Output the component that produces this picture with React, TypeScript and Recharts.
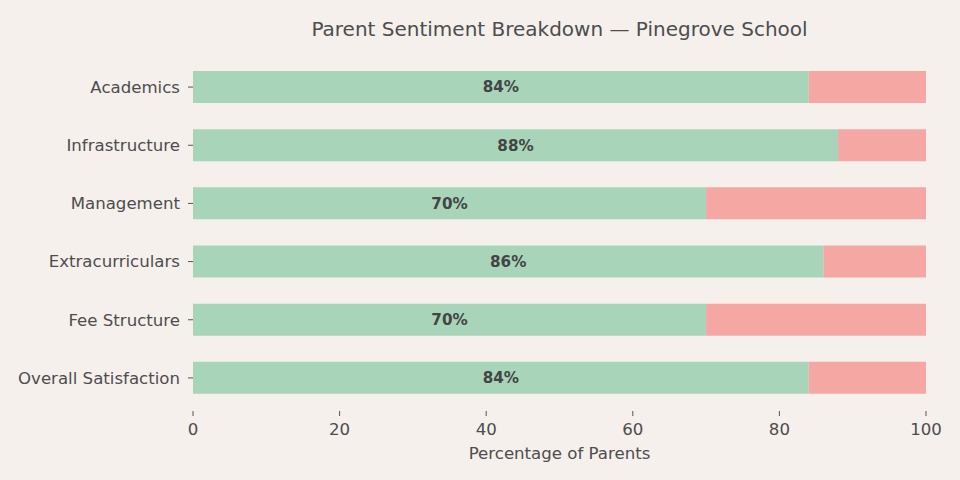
import React from 'react';
import { BarChart, Bar, XAxis, YAxis, LabelList, Label } from 'recharts';

const categories = [
    'Academics',
    'Infrastructure',
    'Management',
    'Extracurriculars',
    'Fee Structure',
    'Overall Satisfaction',
];
const positive = [84, 88, 70, 86, 70, 84];
const negative = [16, 12, 30, 14, 30, 16];
const xTicks = [0, 20, 40, 60, 80, 100];

const BG = '#f5f0ec';
const TEXT = '#4d4d4d';
const FONT = '"DejaVu Sans", sans-serif';

const data = categories.map((name, i) => ({
    name,
    positive: positive[i],
    negative: negative[i],
}));

export default function App() {
    return (
        <div style={{ position: 'absolute', left: 0, top: 0, width: 960, height: 480, background: BG, fontFamily: FONT }}>
            <BarChart
                width={960}
                height={480}
                layout="vertical"
                data={data}
                margin={{ top: 58, right: 34, bottom: 0, left: 0 }}
            >
                <XAxis
                    type="number"
                    domain={[0, 100]}
                    ticks={xTicks}
                    axisLine={false}
                    tickSize={5}
                    tickMargin={7}
                    tickLine={{ stroke: '#555' }}
                    tick={{ fill: TEXT, fontSize: 16.6, fontFamily: FONT }}
                    height={69}
                >
                    <Label
                        value="Percentage of Parents"
                        position="insideBottom"
                        offset={21}
                        style={{ fill: TEXT, fontSize: 16.6, fontFamily: FONT }}
                    />
                </XAxis>
                <YAxis
                    type="category"
                    dataKey="name"
                    width={193}
                    axisLine={false}
                    tickSize={5}
                    tickMargin={8}
                    tickLine={{ stroke: '#555' }}
                    tick={{ fill: TEXT, fontSize: 16.6, fontFamily: FONT }}
                    padding={{ top: 0, bottom: 4 }}
                />
                <Bar dataKey="positive" stackId="s" fill="#a8d5ba" barSize={32} isAnimationActive={false}>
                    <LabelList
                        dataKey="positive"
                        position="center"
                        formatter={(v: number) => `${v}%`}
                        style={{ fill: '#444', fontSize: 15.2, fontWeight: 'bold', fontFamily: FONT }}
                    />
                </Bar>
                <Bar dataKey="negative" stackId="s" fill="#f5a8a3" barSize={32} isAnimationActive={false} />
            </BarChart>
            <svg
                width={960}
                height={60}
                style={{ position: 'absolute', left: 0, top: 0, pointerEvents: 'none' }}
            >
                <text x={559.5} y={35.5} textAnchor="middle" fill={TEXT} fontSize={20} fontFamily={FONT}>
                    Parent Sentiment Breakdown — Pinegrove School
                </text>
            </svg>
        </div>
    );
}
